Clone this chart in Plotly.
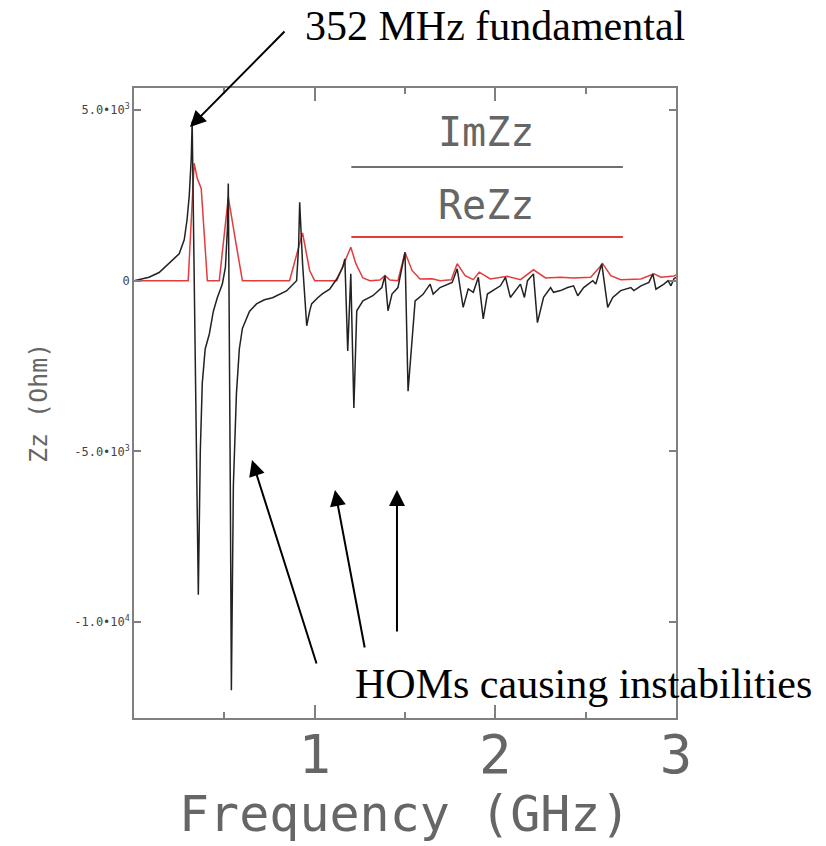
import plotly.graph_objects as go

# ---- data (frequency in GHz, impedance in Ohm) ----
im_freq = [0.000, 0.083, 0.139, 0.194, 0.250, 0.278, 0.294, 0.306, 0.317, 0.322,
           0.339, 0.356, 0.367, 0.378, 0.394, 0.417, 0.439, 0.461, 0.489, 0.506,
           0.517, 0.522, 0.533, 0.539, 0.550, 0.567, 0.583, 0.600, 0.639, 0.678,
           0.722, 0.767, 0.844, 0.883, 0.900, 0.911, 0.917, 0.933, 0.956, 0.972,
           0.983, 1.017, 1.044, 1.083, 1.122, 1.156, 1.167, 1.183, 1.200, 1.217,
           1.233, 1.267, 1.322, 1.372, 1.389, 1.406, 1.428, 1.461, 1.500, 1.517,
           1.556, 1.600, 1.639, 1.656, 1.694, 1.761, 1.789, 1.822, 1.850, 1.878,
           1.906, 1.933, 1.956, 2.028, 2.056, 2.083, 2.111, 2.139, 2.161, 2.178,
           2.211, 2.233, 2.267, 2.306, 2.322, 2.361, 2.400, 2.433, 2.456, 2.489,
           2.539, 2.556, 2.589, 2.622, 2.650, 2.694, 2.750, 2.767, 2.806, 2.850,
           2.872, 2.889, 2.933, 2.956, 2.972, 2.989, 3.000]
im_zz = [0, 100, 240, 500, 790, 1200, 1800, 2500, 3600, 4660,
         -2000, -9200, -5000, -3000, -2000, -1560, -900, -500, -100, 400,
         1500, 2850, -6000, -12000, -6000, -3300, -2000, -1400, -900, -680,
         -560, -500, -300, -100, 0, 1000, 2300, 500, -1320, -900,
         -680, -500, -380, -250, 50, 400, 640, -2060, 200, -3730,
         -880, -590, -440, -200, 150, -880, -390, -200, 830, -3240,
         -590, -400, -100, -390, -200, -50, 350, -780, -240, -340,
         100, -1120, -390, -150, 100, -490, -290, -100, -490, 0,
         200, -1230, -490, -200, -340, -290, -200, -150, -440, -200,
         0, -100, 500, -780, -490, -290, -200, -290, -150, -50,
         200, -250, -100, 0, -150, 60, 100]

re_freq = [0.000, 0.300, 0.333, 0.350, 0.372, 0.406, 0.472, 0.522, 0.561, 0.600,
           0.861, 0.933, 0.972, 1.000, 1.122, 1.200, 1.228, 1.267, 1.306, 1.361,
           1.389, 1.417, 1.461, 1.500, 1.539, 1.583, 1.650, 1.694, 1.756, 1.789,
           1.833, 1.878, 1.911, 1.972, 2.067, 2.139, 2.211, 2.278, 2.361, 2.433,
           2.528, 2.594, 2.639, 2.694, 2.806, 2.878, 2.917, 2.989, 3.000]
re_zz = [0, 0, 3440, 3000, 2700, 0, 0, 2450, 1200, 0,
         0, 1400, 300, 0, 0, 980, 500, 80, 0, 20,
         150, 20, 0, 830, 300, 50, 60, 0, 30, 500,
         150, 30, 250, 50, 130, 30, 320, 80, 100, 80,
         100, 500, 150, 30, 50, 200, 100, 140, 170]

x_tickvals = [1, 2, 3]
x_ticktext = ["1", "2", "3"]
y_tickvals = [5000, 0, -5000, -10000]
y_ticktext = ["5.0\u202210<sup>3</sup>", "0", "-5.0\u202210<sup>3</sup>", "-1.0\u202210<sup>4</sup>"]

legend_labels = ["ImZz", "ReZz"]
top_label = "352 MHz fundamental"
bottom_label = "HOMs causing instabilities"
x_title = "Frequency (GHz)"
y_title = "Zz (Ohm)"

IM_COLOR = "#222222"
RE_COLOR = "#e23c3c"
AXIS_COLOR = "#808080"
TEXT_COLOR = "#666666"
MONO = "DejaVu Sans Mono"
SERIF = "Liberation Serif, Times New Roman, serif"

fig = go.Figure()
fig.add_trace(go.Scatter(x=re_freq, y=re_zz, mode="lines",
                         line=dict(color=RE_COLOR, width=1.5), name="ReZz",
                         showlegend=False, hoverinfo="skip"))
fig.add_trace(go.Scatter(x=im_freq, y=im_zz, mode="lines",
                         line=dict(color=IM_COLOR, width=1.5), name="ImZz",
                         showlegend=False, hoverinfo="skip"))

fig.update_layout(
    width=826, height=846, autosize=False,
    margin=dict(l=134, r=150, t=88, b=128),
    paper_bgcolor="white", plot_bgcolor="white",
    showlegend=False,
)

fig.update_xaxes(
    range=[0, 3], showgrid=False, zeroline=False,
    showline=True, linecolor=AXIS_COLOR, linewidth=1.5, mirror="ticks",
    ticks="inside", ticklen=13, tickwidth=1.5, tickcolor=AXIS_COLOR,
    tickvals=x_tickvals, ticktext=x_ticktext, ticklabelstandoff=-12,
    tickfont=dict(family=MONO, size=54, color=TEXT_COLOR),
    minor=dict(dtick=0.5, tick0=0, ticks="inside", ticklen=6,
               tickwidth=1.5, tickcolor=AXIS_COLOR, showgrid=False),
)
fig.update_yaxes(
    range=[-12810, 5645], showgrid=False, zeroline=False,
    showline=True, linecolor=AXIS_COLOR, linewidth=1.5, mirror="ticks",
    ticks="inside", ticklen=7, tickwidth=1.5, tickcolor=AXIS_COLOR,
    tickvals=y_tickvals, ticktext=y_ticktext,
    tickfont=dict(family=MONO, size=12, color="#444444"),
)

annotations = [
    # axis titles
    dict(text=x_title, xref="paper", yref="paper", x=0.5, y=-0.153,
         xanchor="center", yanchor="middle", showarrow=False,
         font=dict(family=MONO, size=50, color=TEXT_COLOR)),
    dict(text=y_title, xref="paper", yref="paper", x=-0.177, y=0.5,
         xanchor="center", yanchor="middle", showarrow=False, textangle=-90,
         font=dict(family=MONO, size=25, color=TEXT_COLOR)),
    # legend labels
    dict(text=legend_labels[0], xref="paper", yref="paper", x=0.650, y=0.930,
         xanchor="center", yanchor="middle", showarrow=False,
         font=dict(family=MONO, size=40, color=TEXT_COLOR)),
    dict(text=legend_labels[1], xref="paper", yref="paper", x=0.650, y=0.814,
         xanchor="center", yanchor="middle", showarrow=False,
         font=dict(family=MONO, size=40, color=TEXT_COLOR)),
    # callout texts
    dict(text=top_label, xref="paper", yref="paper", x=0.312, y=1.098,
         xanchor="left", yanchor="middle", showarrow=False,
         font=dict(family=SERIF, size=42, color="black")),
    dict(text=bottom_label, xref="paper", yref="paper", x=0.404, y=0.054,
         xanchor="left", yanchor="middle", showarrow=False,
         font=dict(family=SERIF, size=42, color="black")),
]

arrow_style = dict(text="", xref="paper", yref="paper", showarrow=True,
                   arrowhead=2, arrowsize=1.6, arrowwidth=2, arrowcolor="black",
                   standoff=0, startstandoff=0)
arrows = [
    (0.1033, 0.938, 96, -97),
    (0.2177, 0.4095, 65, 205),
    (0.3708, 0.3619, 30, 159),
    (0.4852, 0.3619, 0, 143),
]
for ax_x, ax_y, dx, dy in arrows:
    annotations.append(dict(arrow_style, x=ax_x, y=ax_y, ax=dx, ay=dy))

fig.update_layout(annotations=annotations)

# legend sample lines
fig.add_shape(type="line", xref="paper", yref="paper", x0=0.401, x1=0.902,
              y0=0.8746, y1=0.8746, line=dict(color="#707070", width=2))
fig.add_shape(type="line", xref="paper", yref="paper", x0=0.401, x1=0.902,
              y0=0.7635, y1=0.7635, line=dict(color=RE_COLOR, width=2))

fig.write_html("out.html")
